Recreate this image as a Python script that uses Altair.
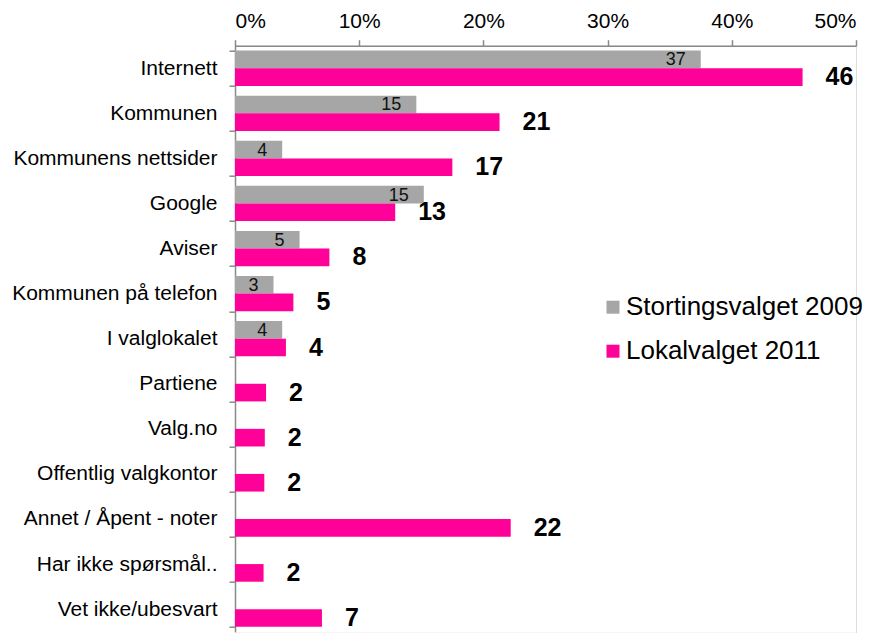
import altair as alt
import pandas as pd

categories = [
    "Internett", "Kommunen", "Kommunens nettsider", "Google", "Aviser",
    "Kommunen på telefon", "I valglokalet", "Partiene", "Valg.no",
    "Offentlig valgkontor", "Annet / Åpent - noter", "Har ikke spørsmål..",
    "Vet ikke/ubesvart",
]
series = ["Stortingsvalget 2009", "Lokalvalget 2011"]

values_2009 = [37.5, 14.6, 3.8, 15.2, 5.2, 3.1, 3.8, None, None, None, None, None, None]
labels_2009 = ["37", "15", "4", "15", "5", "3", "4", None, None, None, None, None, None]
values_2011 = [45.7, 21.3, 17.5, 12.9, 7.6, 4.7, 4.1, 2.5, 2.4, 2.36, 22.2, 2.3, 7.0]
labels_2011 = ["46", "21", "17", "13", "8", "5", "4", "2", "2", "2", "22", "2", "7"]

colors = ["#A6A6A6", "#FF0099"]
axis_color = "#898989"
FONT = "Liberation Sans"

rows = []
for i, cat in enumerate(categories):
    if values_2009[i] is not None:
        rows.append({"category": cat, "series": series[0], "value": values_2009[i], "label": labels_2009[i]})
    rows.append({"category": cat, "series": series[1], "value": values_2011[i], "label": labels_2011[i]})
df = pd.DataFrame(rows)

x_enc = alt.X(
    "value:Q",
    scale=alt.Scale(domain=[0, 50], nice=False, zero=True),
    axis=alt.Axis(
        orient="top", title=None, grid=False, values=[0, 10, 20, 30, 40, 50],
        labelExpr="datum.value + '%'", labelFontSize=21, labelFont=FONT,
        labelColor="black", labelPadding=8, tickSize=6, tickColor=axis_color,
        domainColor=axis_color, domainWidth=1.5, tickWidth=1.5,
    ),
)
y_enc = alt.Y(
    "category:N",
    sort=categories,
    scale=alt.Scale(domain=categories, range=[0, 586], paddingInner=0.2174, paddingOuter=0.1087),
    axis=alt.Axis(
        title=None, labelFontSize=21, labelFont=FONT, labelColor="black",
        labelPadding=12, labelLimit=400, tickSize=6, tickBand="extent",
        tickColor=axis_color, domainColor=axis_color, domainWidth=1.5, tickWidth=1.5,
    ),
)
yoff_enc = alt.YOffset(
    "series:N",
    sort=series,
    scale=alt.Scale(domain=series, paddingInner=0, paddingOuter=0),
)

bars = alt.Chart(df).mark_bar().encode(
    x=x_enc,
    y=y_enc,
    yOffset=yoff_enc,
    color=alt.Color(
        "series:N",
        sort=series,
        scale=alt.Scale(domain=series, range=colors),
        legend=alt.Legend(
            orient="none", legendX=365, legendY=248.5, title=None,
            labelFontSize=26, labelFont=FONT, labelColor="black",
            symbolType="square", symbolSize=169, symbolStrokeWidth=0,
            rowPadding=18, labelOffset=0, labelLimit=400,
        ),
    ),
)

text_2009 = alt.Chart(df).transform_filter(
    alt.datum.series == series[0]
).mark_text(
    align="right", baseline="middle", dx=-15, dy=1, fontSize=18, font=FONT, color="#111111"
).encode(x=x_enc, y=y_enc, yOffset=yoff_enc, text="label:N")

text_2011 = alt.Chart(df).transform_filter(
    alt.datum.series == series[1]
).mark_text(
    align="left", baseline="middle", dx=23, dy=0, fontSize=25, fontWeight="bold", font=FONT, color="black"
).encode(x=x_enc, y=y_enc, yOffset=yoff_enc, text="label:N")

chart = alt.layer(bars, text_2009, text_2011).properties(
    width=621,
    height=587,
    padding={"left": 227, "top": 37.7, "right": 15, "bottom": 0},
    autosize=alt.AutoSizeParams(type="none"),
).configure_view(stroke=None).configure(font=FONT)

chart.save("out.html", embed_options={"renderer": "svg", "actions": False})
